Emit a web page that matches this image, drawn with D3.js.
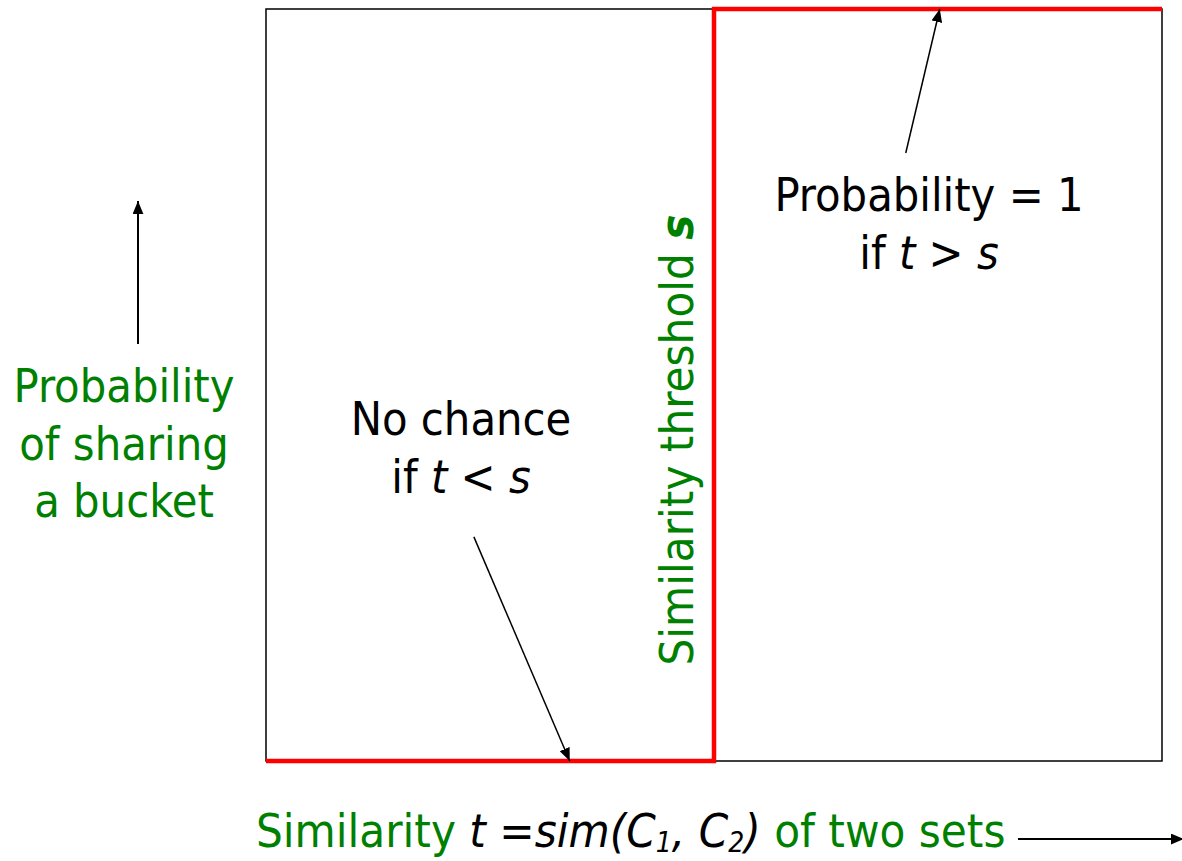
<!DOCTYPE html>
<html>
<head>
<meta charset="utf-8">
<script src="https://cdn.jsdelivr.net/npm/d3@7"></script>
<style>
    body { margin: 0; background: #fff; }
    svg text { font-family: Tahoma, 'DejaVu Sans Condensed', 'DejaVu Sans', sans-serif; font-stretch: condensed; }
</style>
</head>
<body>
<svg id="chart" width="1182" height="861"></svg>
<script>
// step function: probability of sharing a bucket vs similarity
const threshold = 0.5;
const stepX = [0, threshold, 1];
const stepY = [0, 1, 1];

// annotation arrows, in data units: [fromX, fromY, toX, toY]
const noteArrows = [
    [0.232, 0.298, 0.339, 0],
    [0.714, 0.8085, 0.752, 1]
];

const yLabelLines = ['Probability', 'of sharing', 'a bucket'];
const highNote = ['Probability = 1', 'if '];
const lowNote = ['No chance', 'if '];

const green = '#008000';
const svg = d3.select('#chart');

const x = d3.scaleLinear().domain([0, 1]).range([266, 1162]);
const y = d3.scaleLinear().domain([0, 1]).range([761, 9]);

svg.append('defs').append('marker')
    .attr('id', 'head')
    .attr('viewBox', '0 0 12 10')
    .attr('refX', 12)
    .attr('refY', 5)
    .attr('markerWidth', 13)
    .attr('markerHeight', 11)
    .attr('markerUnits', 'userSpaceOnUse')
    .attr('orient', 'auto')
    .append('path')
    .attr('d', 'M0,0L12,5L0,10Z')
    .attr('fill', '#000');

// frame
svg.append('rect')
    .attr('x', x(0))
    .attr('y', y(1))
    .attr('width', x(1) - x(0))
    .attr('height', y(0) - y(1))
    .attr('fill', 'none')
    .attr('stroke', '#000')
    .attr('stroke-width', 1.5);

// the ideal step
const line = d3.line()
    .x((d, i) => x(stepX[i]))
    .y(d => y(d))
    .curve(d3.curveStepAfter);

svg.append('path')
    .datum(stepY)
    .attr('d', line)
    .attr('fill', 'none')
    .attr('stroke', '#ff0000')
    .attr('stroke-width', 4.5);

svg.selectAll('line.note')
    .data(noteArrows)
    .join('line')
    .attr('class', 'note')
    .attr('x1', d => x(d[0]))
    .attr('y1', d => y(d[1]))
    .attr('x2', d => x(d[2]))
    .attr('y2', d => y(d[3]))
    .attr('stroke', '#000')
    .attr('stroke-width', 1.5)
    .attr('marker-end', 'url(#head)');

// axis arrows
svg.append('line')
    .attr('x1', 138).attr('y1', 344)
    .attr('x2', 138).attr('y2', 201)
    .attr('stroke', '#000').attr('stroke-width', 2)
    .attr('marker-end', 'url(#head)');

svg.append('line')
    .attr('x1', 1018).attr('y1', 839)
    .attr('x2', 1184).attr('y2', 839)
    .attr('stroke', '#000').attr('stroke-width', 2)
    .attr('marker-end', 'url(#head)');

// y label
svg.append('text')
    .attr('text-anchor', 'middle')
    .attr('font-size', 46.5)
    .attr('fill', green)
    .selectAll('tspan')
    .data(yLabelLines)
    .join('tspan')
    .attr('x', 124)
    .attr('y', (d, i) => 402 + i * 57.5)
    .text(d => d);

// notes with italic t, s
function note(lines, cx, baseY, sign) {
    const t = svg.append('text')
        .attr('text-anchor', 'middle')
        .attr('font-size', 46.5)
        .attr('fill', '#000');
    t.append('tspan').attr('x', cx).attr('y', baseY).text(lines[0]);
    t.append('tspan').attr('x', cx).attr('y', baseY + 57.5).text(lines[1]);
    t.append('tspan').attr('font-style', 'italic').text('t');
    t.append('tspan').text(sign);
    t.append('tspan').attr('font-style', 'italic').text('s');
}
note(highNote, 929, 211, ' > ');
note(lowNote, 461, 435, ' < ');

// threshold label
const th = svg.append('text')
    .attr('transform', `translate(${x(threshold) - 21},440) rotate(-90)`)
    .attr('text-anchor', 'middle')
    .attr('font-size', 47)
    .attr('fill', green);
th.append('tspan').text('Similarity threshold ');
th.append('tspan').attr('font-weight', 'bold').attr('font-style', 'italic').text('s');

// x label
const xl = svg.append('text')
    .attr('x', 256)
    .attr('y', 847)
    .attr('font-size', 47)
    .attr('fill', green);
xl.append('tspan').text('Similarity ');
const it = xl.append('tspan').attr('fill', '#000').attr('font-style', 'italic');
it.append('tspan').text('t =sim(C');
it.append('tspan').attr('font-size', 28).attr('dy', 5).text('1');
it.append('tspan').attr('dy', -5).text(', C');
it.append('tspan').attr('font-size', 28).attr('dy', 5).text('2');
it.append('tspan').attr('dy', -5).text(')');
xl.append('tspan').text(' of two sets');
</script>
</body>
</html>
